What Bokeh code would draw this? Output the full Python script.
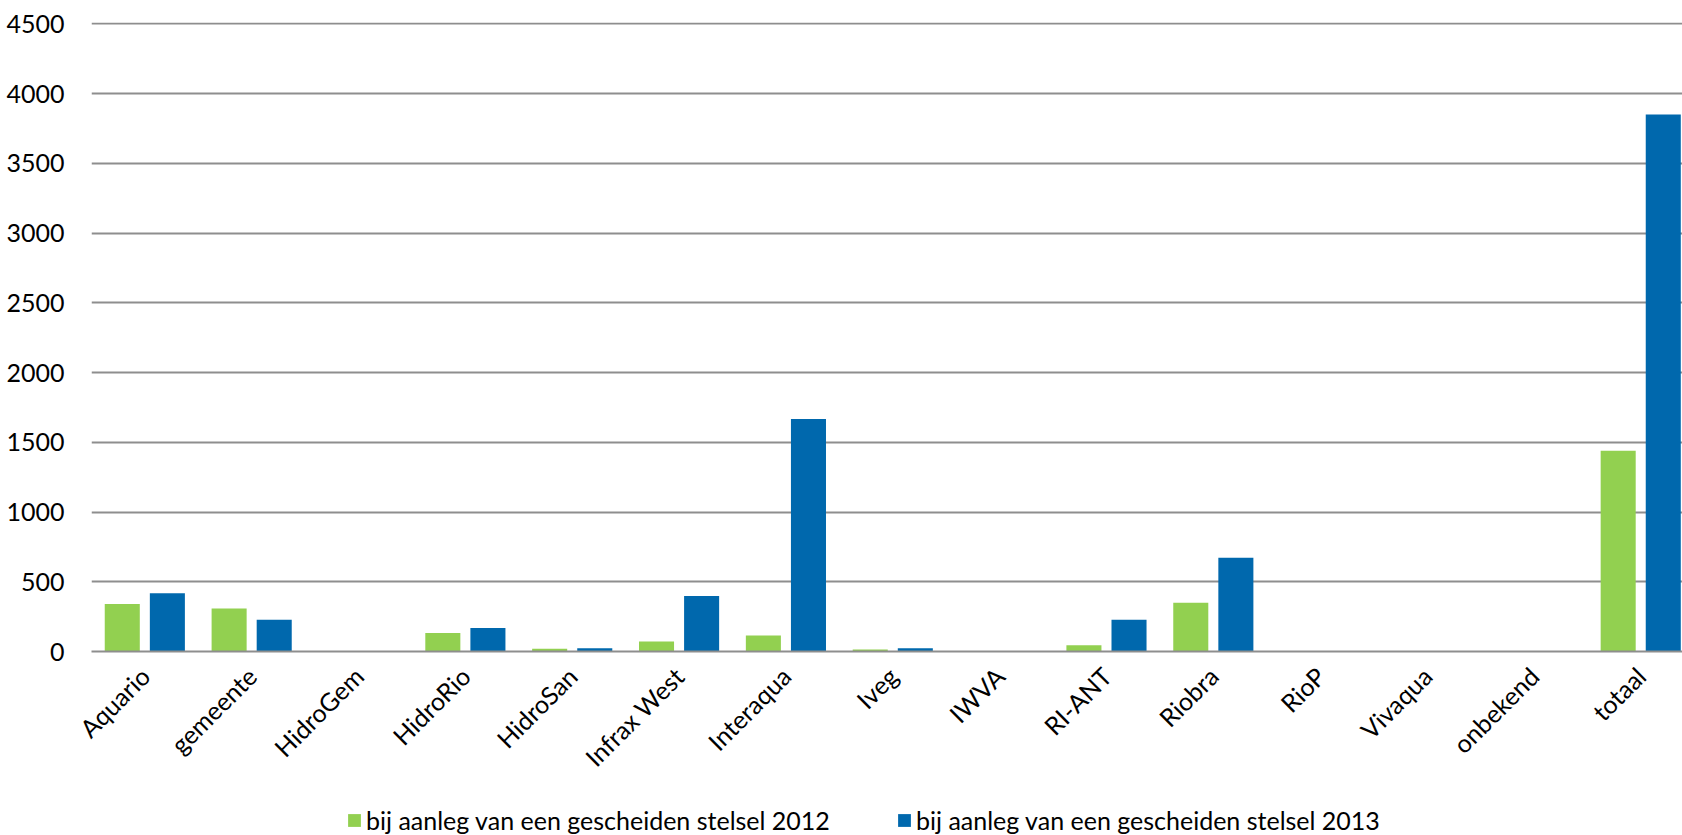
import numpy as np
from bokeh.plotting import figure
from bokeh.layouts import column
from bokeh.models import (ColumnDataSource, Range1d, FixedTicker, Legend, LegendItem)
from bokeh.embed import file_html
from bokeh.resources import INLINE

categories = ["Aquario", "gemeente", "HidroGem", "HidroRio", "HidroSan", "Infrax West",
              "Interaqua", "Iveg", "IWVA", "RI-ANT", "Riobra", "RioP", "Vivaqua",
              "onbekend", "totaal"]
v2012 = [340, 309, 0, 132, 19, 72, 115, 15, 0, 45, 350, 0, 0, 0, 1440]
v2013 = [417, 228, 0, 168, 24, 398, 1667, 23, 0, 228, 673, 0, 0, 0, 3850]
series_names = ["bij aanleg van een gescheiden stelsel 2012",
                "bij aanleg van een gescheiden stelsel 2013"]
y_ticks = [0, 500, 1000, 1500, 2000, 2500, 3000, 3500, 4000, 4500]

GREEN = "#92D050"
BLUE = "#0068AD"
GRID = "#8E8E8E"
FONT = "Lato"

idx = np.arange(len(categories)) + 0.5
src = ColumnDataSource(dict(x1=idx - 0.212, x2=idx + 0.21, v2012=v2012, v2013=v2013))

p = figure(width=1682, height=800, output_backend="svg", toolbar_location=None,
           x_range=Range1d(0, 14.89), y_range=Range1d(0, 4510),
           min_border_left=91, min_border_right=0, min_border_top=22, min_border_bottom=149)
p.outline_line_color = None
p.background_fill_color = "white"

p.vbar(x="x1", top="v2012", width=0.328, source=src, fill_color=GREEN, line_color=None)
p.vbar(x="x2", top="v2013", width=0.328, source=src, fill_color=BLUE, line_color=None)

p.xgrid.grid_line_color = None
p.ygrid.grid_line_color = GRID
p.ygrid.grid_line_width = 2
p.ygrid.ticker = FixedTicker(ticks=y_ticks)

p.yaxis.ticker = FixedTicker(ticks=y_ticks)
p.yaxis.axis_line_color = None
p.yaxis.major_tick_line_color = None
p.yaxis.minor_tick_line_color = None
p.yaxis.major_label_standoff = 21
p.yaxis.major_label_text_font = FONT
p.yaxis.major_label_text_font_size = "25px"
p.yaxis.major_label_text_color = "black"

p.xaxis.ticker = FixedTicker(ticks=list(idx))
p.xaxis.major_label_overrides = {float(x): c for x, c in zip(idx, categories)}
p.xaxis.major_label_orientation = np.pi / 4
p.xaxis.axis_line_color = GRID
p.xaxis.axis_line_width = 2
p.xaxis.major_tick_line_color = None
p.xaxis.minor_tick_line_color = None
p.xaxis.major_label_standoff = 14
p.xaxis.major_label_text_font = FONT
p.xaxis.major_label_text_font_size = "25px"
p.xaxis.major_label_text_color = "black"

# legend strip below the chart (its renderers lie outside its view)
lf = figure(width=1682, height=35, output_backend="svg", toolbar_location=None,
            x_range=Range1d(-30, -29), y_range=Range1d(0, 1),
            x_axis_location=None, y_axis_location=None,
            min_border=0, min_border_left=0, min_border_right=0,
            min_border_top=0, min_border_bottom=0)
lf.outline_line_color = None
lf.xgrid.grid_line_color = None
lf.ygrid.grid_line_color = None
k1 = lf.vbar(x="x1", top="v2012", width=0.328, source=src, fill_color=GREEN, line_color=None)
k2 = lf.vbar(x="x2", top="v2013", width=0.328, source=src, fill_color=BLUE, line_color=None)

for r, name, xloc in [(k1, series_names[0], 255), (k2, series_names[1], 805)]:
    lg = Legend(items=[LegendItem(label=name, renderers=[r], index=0)], location=(xloc, 0),
                orientation="horizontal", padding=0, margin=0, border_line_color=None,
                background_fill_alpha=0, glyph_width=16, glyph_height=16,
                label_standoff=4, label_text_font=FONT, label_text_font_size="25px",
                label_height=16, label_text_color="black")
    lf.add_layout(lg, "center")

layout = column(p, lf, spacing=0)
open("out.html", "w").write(file_html(layout, INLINE))
